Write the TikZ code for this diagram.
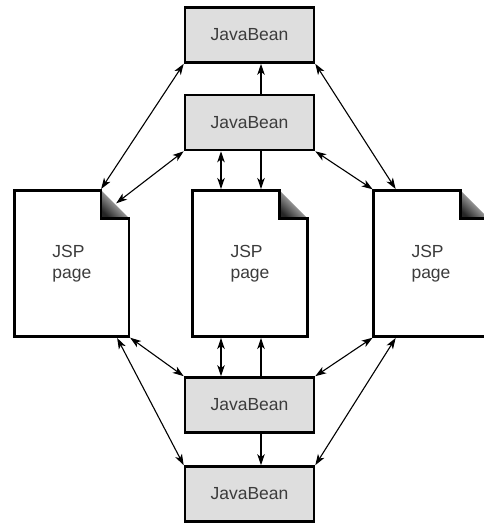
\documentclass[tikz,border=0pt]{standalone}
\usepackage{fontspec}
\setmainfont{Liberation Sans}
\usetikzlibrary{arrows.meta,calc}
\definecolor{beangray}{RGB}{222,222,222}
\definecolor{txtgray}{RGB}{60,60,60}
\newcommand\jsppage[1]{%
  \shade[top color=white, middle color=gray!12, bottom color=black!85, shading angle=-45]
    ([xshift=-28pt]#1.north east) -- ([shift={(-28,28)}]#1.north east)
    -- ([shift={(0,28)}]#1.north east) -- cycle;
  \draw[pageline] (#1.north west) -- ([xshift=-28pt]#1.north east)
    -- ([shift={(-28,28)}]#1.north east) -- ([shift={(0,28)}]#1.north east)
    -- (#1.south east) -- (#1.south west) -- cycle;
}
\begin{document}
\begin{tikzpicture}[x=1pt,y=-1pt,
  labelfont/.style={font=\fontsize{17.5}{20.5}\selectfont, text=txtgray},
  bean/.style={draw=black, line width=2.6pt, fill=beangray, minimum width=129pt,
    minimum height=55pt, inner sep=0pt, labelfont},
  pagebox/.style={minimum width=114.7pt, minimum height=146.4pt, inner sep=0pt,
    outer sep=0pt, align=left, labelfont},
  pageline/.style={draw=black, line width=2.6pt, line join=miter},
  tip/.tip={Stealth[length=11pt,width=7.5pt,inset=3pt]},
  conn/.style={line width=1.1pt, -tip},
  biconn/.style={line width=1.1pt, tip-tip},
]
\useasboundingbox (0,0) rectangle (484,523);
\clip (0,0) rectangle (484,523);
\fill[white] (0,0) rectangle (484,523);

% JavaBean boxes
\node[bean] (b1) at (249.5,35) {JavaBean};
\node[bean] (b2) at (249.5,122.5) {JavaBean};
\node[bean] (b3) at (249.5,405) {JavaBean};
\node[bean] (b4) at (249.5,494) {JavaBean};

% JSP pages (outline drawn from the node anchors)
\node[pagebox] (lp) at (71.8,263.5) {};
\node[pagebox] (cp) at (250,263.5) {};
\node[pagebox] (rp) at (431,263.5) {};
\jsppage{lp}
\jsppage{cp}
\jsppage{rp}
\node[align=left, labelfont] (lpt) at (lp) {JSP\\page};
\node[align=left, labelfont] (cpt) at (cp) {JSP\\page};
\node[align=left, labelfont] (rpt) at (rp) {JSP\\page};

% vertical connectors
\draw[conn] ([xshift=11.5pt]b2.north) -- ([xshift=11.5pt]b1.south);
\draw[conn] ([xshift=11.5pt]b2.south) -- ([xshift=11pt,yshift=1.3pt]cp.north);
\draw[biconn] ([xshift=-28.5pt]b2.south) -- ([xshift=-29pt,yshift=1.3pt]cp.north);
\draw[biconn] ([xshift=-29pt,yshift=-1.3pt]cp.south) -- ([xshift=-28.5pt]b3.north);
\draw[conn] ([xshift=11.5pt]b3.north) -- ([xshift=11pt,yshift=-1.3pt]cp.south);
\draw[conn] ([xshift=11.5pt]b3.south) -- ([xshift=11.5pt]b4.north);

% left page connectors
\draw[biconn] ([xshift=-28pt,yshift=1.3pt]lp.north east) -- (b1.south west);
\draw[biconn] ([shift={(-13,13)}]lp.north east) -- (b2.south west);
\draw[biconn] ([shift={(1,1)}]lp.south east) -- (b3.north west);
\draw[biconn] ([xshift=-12pt,yshift=-1.3pt]lp.south east) -- (b4.north west);

% right page connectors
\draw[biconn] (b1.south east) -- ([xshift=22pt,yshift=1.3pt]rp.north west);
\draw[biconn] (b2.south east) -- ([shift={(-1,-1)}]rp.north west);
\draw[biconn] ([shift={(-1,1)}]rp.south west) -- (b3.north east);
\draw[biconn] ([xshift=22pt,yshift=-1.3pt]rp.south west) -- (b4.north east);
\end{tikzpicture}
\end{document}
